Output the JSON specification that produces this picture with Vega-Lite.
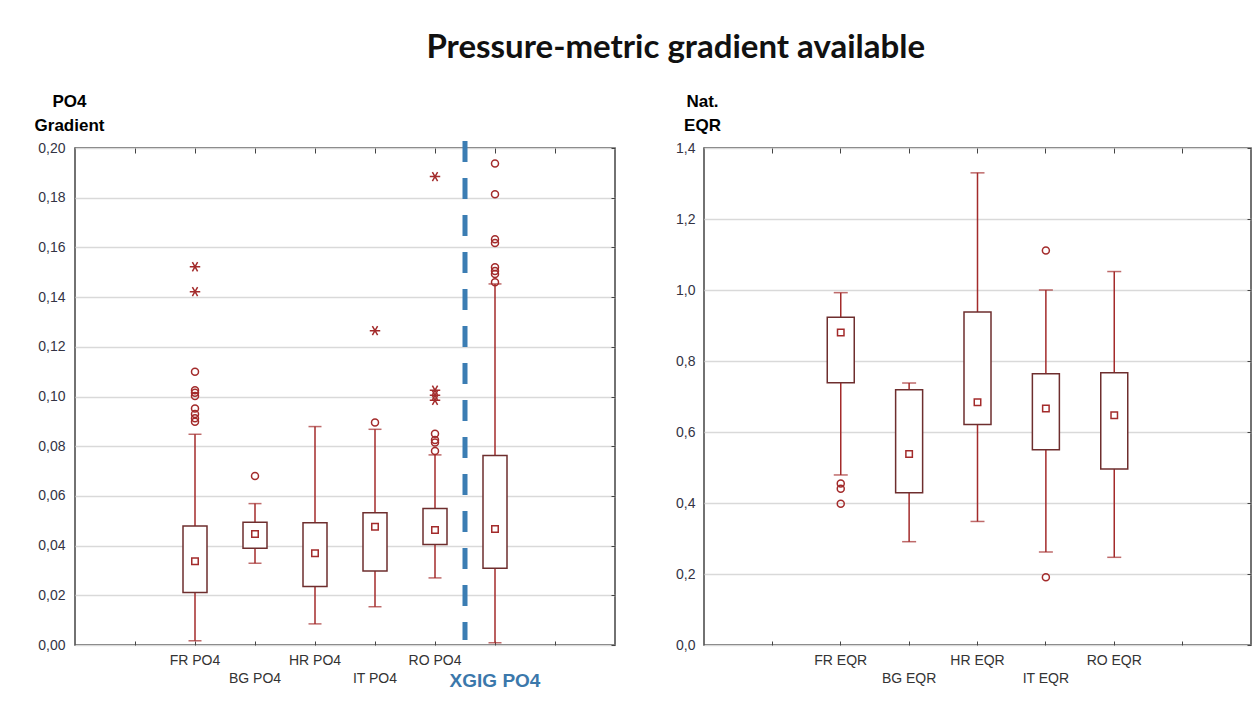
{
  "$schema": "https://vega.github.io/schema/vega-lite/v6.json",
  "background": "white",
  "padding": {"left": 33, "top": 32, "right": 5, "bottom": 5},
  "title": {"text": "Pressure-metric gradient available", "font": "Lato", "fontSize": 33, "fontWeight": "bold", "color": "#111111", "anchor": "middle", "offset": 26, "dx": 33},
  "spacing": 57,
  "datasets": {
    "po4box": [
      {"cat": "FR PO4", "lo": 0.0017, "q1": 0.0211, "med": 0.0337, "q3": 0.0479, "hi": 0.0848},
      {"cat": "BG PO4", "lo": 0.0329, "q1": 0.0389, "med": 0.0447, "q3": 0.0494, "hi": 0.0569},
      {"cat": "HR PO4", "lo": 0.0085, "q1": 0.0235, "med": 0.0369, "q3": 0.0492, "hi": 0.0879},
      {"cat": "IT PO4", "lo": 0.0154, "q1": 0.0298, "med": 0.0476, "q3": 0.0532, "hi": 0.0868},
      {"cat": "RO PO4", "lo": 0.027, "q1": 0.0404, "med": 0.0463, "q3": 0.0549, "hi": 0.0765},
      {"cat": "XGIG PO4", "lo": 0.0009, "q1": 0.0309, "med": 0.0467, "q3": 0.0763, "hi": 0.1453}
    ],
    "po4out": [
      {"cat": "FR PO4", "value": 0.110, "kind": "outlier"},
      {"cat": "FR PO4", "value": 0.1025, "kind": "outlier"},
      {"cat": "FR PO4", "value": 0.1015, "kind": "outlier"},
      {"cat": "FR PO4", "value": 0.1002, "kind": "outlier"},
      {"cat": "FR PO4", "value": 0.0952, "kind": "outlier"},
      {"cat": "FR PO4", "value": 0.093, "kind": "outlier"},
      {"cat": "FR PO4", "value": 0.0912, "kind": "outlier"},
      {"cat": "FR PO4", "value": 0.0898, "kind": "outlier"},
      {"cat": "FR PO4", "value": 0.1522, "kind": "extreme"},
      {"cat": "FR PO4", "value": 0.1422, "kind": "extreme"},
      {"cat": "BG PO4", "value": 0.068, "kind": "outlier"},
      {"cat": "IT PO4", "value": 0.0895, "kind": "outlier"},
      {"cat": "IT PO4", "value": 0.1265, "kind": "extreme"},
      {"cat": "RO PO4", "value": 0.085, "kind": "outlier"},
      {"cat": "RO PO4", "value": 0.0825, "kind": "outlier"},
      {"cat": "RO PO4", "value": 0.0815, "kind": "outlier"},
      {"cat": "RO PO4", "value": 0.0781, "kind": "outlier"},
      {"cat": "RO PO4", "value": 0.1885, "kind": "extreme"},
      {"cat": "RO PO4", "value": 0.1025, "kind": "extreme"},
      {"cat": "RO PO4", "value": 0.1005, "kind": "extreme"},
      {"cat": "RO PO4", "value": 0.0985, "kind": "extreme"},
      {"cat": "XGIG PO4", "value": 0.1938, "kind": "outlier"},
      {"cat": "XGIG PO4", "value": 0.1814, "kind": "outlier"},
      {"cat": "XGIG PO4", "value": 0.1633, "kind": "outlier"},
      {"cat": "XGIG PO4", "value": 0.1618, "kind": "outlier"},
      {"cat": "XGIG PO4", "value": 0.152, "kind": "outlier"},
      {"cat": "XGIG PO4", "value": 0.1505, "kind": "outlier"},
      {"cat": "XGIG PO4", "value": 0.1493, "kind": "outlier"},
      {"cat": "XGIG PO4", "value": 0.146, "kind": "outlier"}
    ],
    "divider": [{"cat": "XGIG PO4"}],
    "eqrbox": [
      {"cat": "FR EQR", "lo": 0.479, "q1": 0.739, "med": 0.880, "q3": 0.923, "hi": 0.9925},
      {"cat": "BG EQR", "lo": 0.291, "q1": 0.429, "med": 0.538, "q3": 0.719, "hi": 0.738},
      {"cat": "HR EQR", "lo": 0.348, "q1": 0.621, "med": 0.684, "q3": 0.938, "hi": 1.33},
      {"cat": "IT EQR", "lo": 0.262, "q1": 0.55, "med": 0.666, "q3": 0.764, "hi": 1.0},
      {"cat": "RO EQR", "lo": 0.247, "q1": 0.496, "med": 0.647, "q3": 0.767, "hi": 1.052}
    ],
    "eqrout": [
      {"cat": "FR EQR", "value": 0.455, "kind": "outlier"},
      {"cat": "FR EQR", "value": 0.44, "kind": "outlier"},
      {"cat": "FR EQR", "value": 0.398, "kind": "outlier"},
      {"cat": "IT EQR", "value": 0.191, "kind": "outlier"},
      {"cat": "IT EQR", "value": 1.111, "kind": "outlier"}
    ]
  },
  "hconcat": [
    {
      "width": 540,
      "height": 497,
      "resolve": {"axis": {"x": "independent", "y": "independent"}},
      "layer": [
        {
          "data": {"name": "po4box"},
          "mark": {"type": "rule", "color": "#a32b2b", "strokeWidth": 1.5},
          "encoding": {
            "x": {
              "field": "cat", "type": "nominal",
              "scale": {"type": "band", "domain": ["_a", "FR PO4", "BG PO4", "HR PO4", "IT PO4", "RO PO4", "XGIG PO4", "_b"], "paddingInner": 0, "paddingOuter": 0.5},
              "axis": {
                "title": null, "orient": "bottom", "bandPosition": 0.5, "grid": false, "domain": false,
                "tickSize": -4, "tickColor": "#444", "labelAngle": 0,
                "labelExpr": "indexof(datum.value, '_') == 0 ? '' : datum.value",
                "labelFontSize": {"condition": {"test": "datum.value == 'XGIG PO4'", "value": 19}, "value": 14},
                "labelFontWeight": {"condition": {"test": "datum.value == 'XGIG PO4'", "value": "bold"}, "value": "normal"},
                "labelColor": {"condition": {"test": "datum.value == 'XGIG PO4'", "value": "#3b78ab"}, "value": "#333333"},
                "labelPadding": {"condition": {"test": "indexof(['BG PO4', 'IT PO4', 'XGIG PO4'], datum.value) >= 0", "value": 30}, "value": 12},
                "encode": {
                  "labels": {
                    "update": {
                      "dx": {"signal": "datum.value == 'XGIG PO4' ? 8 : 0"}
                    }
                  }
                }
              }
            },
            "y": {
              "field": "lo", "type": "quantitative",
              "scale": {"domain": [0, 0.2], "nice": false, "zero": false},
              "axis": {
                "title": ["PO4", "Gradient"], "titleAngle": 0, "titleAlign": "center", "titleBaseline": "alphabetic",
                "titleX": -6, "titleY": -42, "titleFont": "Liberation Sans", "titleFontSize": 17, "titleFontWeight": "bold",
                "titleColor": "#000000", "titleLineHeight": 24,
                "values": [0, 0.02, 0.04, 0.06, 0.08, 0.1, 0.12, 0.14, 0.16, 0.18, 0.2],
                "labelExpr": "replace(format(datum.value, '.2f'), '.', ',')",
                "ticks": false, "domain": false, "grid": true, "gridColor": "#d9d9d9", "gridWidth": 1.5,
                "labelPadding": 10, "labelFontSize": 14, "labelColor": "#333344"
              }
            },
            "y2": {"field": "hi"}
          }
        },
        {
          "data": {"name": "po4box"},
          "mark": {"type": "tick", "color": "#a32b2b", "thickness": 1.5, "size": 13},
          "encoding": {
            "x": {"field": "cat", "type": "nominal", "axis": null},
            "y": {"field": "lo", "type": "quantitative", "axis": null}
          }
        },
        {
          "data": {"name": "po4box"},
          "mark": {"type": "tick", "color": "#a32b2b", "thickness": 1.5, "size": 13},
          "encoding": {
            "x": {"field": "cat", "type": "nominal", "axis": null},
            "y": {"field": "hi", "type": "quantitative", "axis": null}
          }
        },
        {
          "data": {"name": "po4box"},
          "mark": {"type": "bar", "fill": "white", "stroke": "#6e2e2e", "strokeWidth": 1.5, "width": 24},
          "encoding": {
            "x": {"field": "cat", "type": "nominal",
              "axis": {"orient": "top", "title": null, "labels": false, "grid": false, "domain": false, "tickSize": -5, "tickColor": "#444", "bandPosition": 0.5}},
            "y": {"field": "q1", "type": "quantitative",
              "axis": {"orient": "right", "title": null, "labels": false, "grid": false, "domain": false, "tickSize": -4, "tickColor": "#444",
                "values": [0, 0.02, 0.04, 0.06, 0.08, 0.1, 0.12, 0.14, 0.16, 0.18, 0.2]}},
            "y2": {"field": "q3"}
          }
        },
        {
          "data": {"name": "po4box"},
          "mark": {"type": "point", "shape": "square", "filled": false, "color": "#a32b2b", "strokeWidth": 1.5, "size": 42, "opacity": 1},
          "encoding": {
            "x": {"field": "cat", "type": "nominal", "axis": null},
            "y": {"field": "med", "type": "quantitative", "axis": null}
          }
        },
        {
          "data": {"name": "po4out"},
          "mark": {"type": "point", "filled": false, "color": "#a32b2b", "strokeWidth": 1.5, "opacity": 1},
          "encoding": {
            "x": {"field": "cat", "type": "nominal", "axis": null},
            "y": {"field": "value", "type": "quantitative", "axis": null},
            "shape": {"field": "kind", "type": "nominal", "legend": null,
              "scale": {"domain": ["outlier", "extreme"], "range": ["circle", "M-1,0H1M-0.5,-0.866L0.5,0.866M-0.5,0.866L0.5,-0.866"]}},
            "size": {"field": "kind", "type": "nominal", "legend": null,
              "scale": {"domain": ["outlier", "extreme"], "range": [49, 110]}}
          }
        },
        {
          "data": {"name": "divider"},
          "mark": {"type": "rule", "color": "#3b7db3", "strokeWidth": 5, "strokeDash": [21, 16]},
          "encoding": {
            "x": {"field": "cat", "type": "nominal", "bandPosition": 0, "axis": null},
            "y": {"datum": 0.2028, "type": "quantitative", "axis": null},
            "y2": {"datum": 0.002}
          }
        }
      ]
    },
    {
      "width": 547,
      "height": 497,
      "resolve": {"axis": {"x": "independent", "y": "independent"}},
      "layer": [
        {
          "data": {"name": "eqrbox"},
          "mark": {"type": "rule", "color": "#a32b2b", "strokeWidth": 1.5},
          "encoding": {
            "x": {
              "field": "cat", "type": "nominal",
              "scale": {"type": "band", "domain": ["_c", "FR EQR", "BG EQR", "HR EQR", "IT EQR", "RO EQR", "_d"], "paddingInner": 0, "paddingOuter": 0.5},
              "axis": {
                "title": null, "orient": "bottom", "bandPosition": 0.5, "grid": false, "domain": false,
                "tickSize": -4, "tickColor": "#444", "labelAngle": 0, "labelFontSize": 14, "labelColor": "#333333",
                "labelExpr": "indexof(datum.value, '_') == 0 ? '' : datum.value",
                "labelPadding": {"condition": {"test": "indexof(['BG EQR', 'IT EQR'], datum.value) >= 0", "value": 30}, "value": 12}
              }
            },
            "y": {
              "field": "lo", "type": "quantitative",
              "scale": {"domain": [0, 1.4], "nice": false, "zero": false},
              "axis": {
                "title": ["Nat.", "EQR"], "titleAngle": 0, "titleAlign": "center", "titleBaseline": "alphabetic",
                "titleX": -2, "titleY": -42, "titleFont": "Liberation Sans", "titleFontSize": 17, "titleFontWeight": "bold",
                "titleColor": "#000000", "titleLineHeight": 24,
                "values": [0, 0.2, 0.4, 0.6, 0.8, 1.0, 1.2, 1.4],
                "labelExpr": "replace(format(datum.value, '.1f'), '.', ',')",
                "ticks": false, "domain": false, "grid": true, "gridColor": "#d9d9d9", "gridWidth": 1.5,
                "labelPadding": 9, "labelFontSize": 14, "labelColor": "#333344"
              }
            },
            "y2": {"field": "hi"}
          }
        },
        {
          "data": {"name": "eqrbox"},
          "mark": {"type": "tick", "color": "#a32b2b", "thickness": 1.5, "size": 14},
          "encoding": {
            "x": {"field": "cat", "type": "nominal", "axis": null},
            "y": {"field": "lo", "type": "quantitative", "axis": null}
          }
        },
        {
          "data": {"name": "eqrbox"},
          "mark": {"type": "tick", "color": "#a32b2b", "thickness": 1.5, "size": 14},
          "encoding": {
            "x": {"field": "cat", "type": "nominal", "axis": null},
            "y": {"field": "hi", "type": "quantitative", "axis": null}
          }
        },
        {
          "data": {"name": "eqrbox"},
          "mark": {"type": "bar", "fill": "white", "stroke": "#6e2e2e", "strokeWidth": 1.5, "width": 27},
          "encoding": {
            "x": {"field": "cat", "type": "nominal",
              "axis": {"orient": "top", "title": null, "labels": false, "grid": false, "domain": false, "tickSize": -5, "tickColor": "#444", "bandPosition": 0.5}},
            "y": {"field": "q1", "type": "quantitative",
              "axis": {"orient": "right", "title": null, "labels": false, "grid": false, "domain": false, "tickSize": -4, "tickColor": "#444",
                "values": [0, 0.2, 0.4, 0.6, 0.8, 1.0, 1.2, 1.4]}},
            "y2": {"field": "q3"}
          }
        },
        {
          "data": {"name": "eqrbox"},
          "mark": {"type": "point", "shape": "square", "filled": false, "color": "#a32b2b", "strokeWidth": 1.5, "size": 42, "opacity": 1},
          "encoding": {
            "x": {"field": "cat", "type": "nominal", "axis": null},
            "y": {"field": "med", "type": "quantitative", "axis": null}
          }
        },
        {
          "data": {"name": "eqrout"},
          "mark": {"type": "point", "shape": "circle", "filled": false, "color": "#a32b2b", "strokeWidth": 1.5, "size": 49, "opacity": 1},
          "encoding": {
            "x": {"field": "cat", "type": "nominal", "axis": null},
            "y": {"field": "value", "type": "quantitative", "axis": null}
          }
        }
      ]
    }
  ],
  "config": {
    "view": {"stroke": "#444444", "strokeWidth": 1.5},
    "axis": {"labelFont": "Liberation Sans"}
  }
}
